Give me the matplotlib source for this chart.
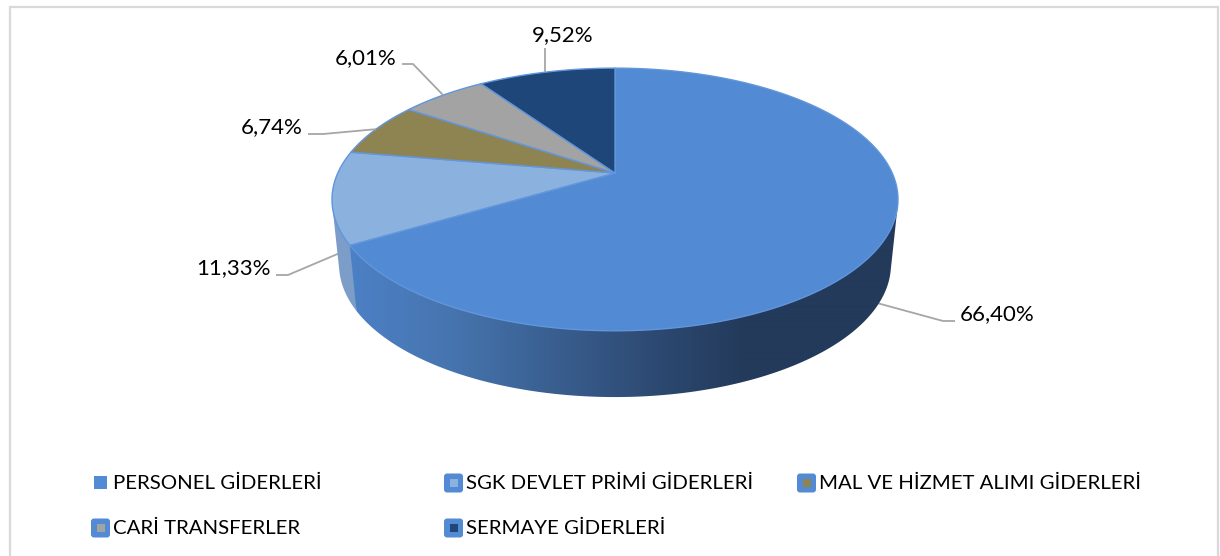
import numpy as np
import matplotlib
matplotlib.use("Agg")
import matplotlib.pyplot as plt
from matplotlib.colors import LinearSegmentedColormap
from matplotlib.patches import FancyBboxPatch, Polygon, Rectangle

plt.rcParams['font.family'] = ['Lato', 'DejaVu Sans']

categories = ['PERSONEL GİDERLERİ', 'SGK DEVLET PRİMİ GİDERLERİ', 'MAL VE HİZMET ALIMI GİDERLERİ',
              'CARİ TRANSFERLER', 'SERMAYE GİDERLERİ']
values = [66.40, 11.33, 6.74, 6.01, 9.52]
labels = ['66,40%', '11,33%', '6,74%', '6,01%', '9,52%']
colors = ['#538AD4', '#8BB1DF', '#8E8452', '#A3A3A3', '#1E4679']
wall_colors = ['#4C80C4', '#7C9DC8', '#6E6740', '#808080', '#183A66']

# Layout, in pixels of the 1220x556 picture
CX, HUB_Y, R, K, A = 615.0, 173.0, 277.2, 0.2015, -126.0
WALL_S, WALL_A, WALL_Y = 0.975, 1.008, 238.0
label_xy = [(960, 314, 'left'), (271, 268, 'right'), (303, 127, 'right'), (396, 58, 'right'), (563, 35, 'center')]
elbows = [[(955, 321), (943, 321)], [(276, 275), (288, 275)], [(308, 134), (323, 134)],
          [(402, 64), (413, 64)], [(545, 48)]]
leader_rim = [0.93, 0.87, 0.0, 0.0, 0.0]
legend_cells = [(94, 483), (444, 483), (797, 483), (91, 528), (444, 528)]


def rim(theta, frac=0.0):
    """Clockwise angle from 12 o'clock to pixel position, frac 0 = top rim, 1 = bottom rim."""
    x, y = np.sin(theta), np.cos(theta)
    w = 1 + K * y
    sx = 1 + (WALL_S - 1) * frac
    sy = 1 + (WALL_A - 1) * frac
    hub = HUB_Y + (WALL_Y - HUB_Y) * frac
    return CX + sx * R * x / w, hub + sy * A * y / w


def hull(points):
    """Convex outline of a set of points (monotone chain)."""
    pts = sorted(set(map(tuple, points)))

    def half(seq):
        out = []
        for p in seq:
            while len(out) > 1 and ((out[-1][0] - out[-2][0]) * (p[1] - out[-2][1])
                                    - (out[-1][1] - out[-2][1]) * (p[0] - out[-2][0])) <= 0:
                out.pop()
            out.append(p)
        return out[:-1]

    return np.array(half(pts) + half(pts[::-1]))


fig = plt.figure(figsize=(12.2, 5.56), dpi=100)
ax = fig.add_axes([0, 0, 1, 1])
ax.set_xlim(0, 1220)
ax.set_ylim(556, 0)
ax.axis('off')

ax.add_patch(Rectangle((10, 6.5), 1207.5, 560, fc='white', ec='#D9D9D9', lw=1.6))

edges = np.concatenate([[0], np.cumsum(values)]) / sum(values) * 2 * np.pi
shade = LinearSegmentedColormap.from_list('shade', [
    (0.0, '#4C80C4'), (0.25, '#4674AE'), (0.5, '#3A6091'), (0.75, '#2E4B74'), (1.0, '#233A5B')])

# Side wall; the large slice carries a left-to-right gradient
for i in range(2):
    th = np.linspace(max(edges[i], np.pi / 3), edges[i + 1], 400)
    xt, yt = rim(th, 0)
    xb, yb = rim(th, 1)
    wall = hull(np.column_stack([np.r_[xt, xb], np.r_[yt, yb]]))
    if i == 0:
        patch = Polygon(wall, closed=True, fc='none', ec='none', zorder=2)
        ax.add_patch(patch)
        xs = np.linspace(330, 910, 580)
        grad = np.clip((xs - 355) / (745 - 355), 0, 1).reshape(1, -1)
        im = ax.imshow(grad, cmap=shade, vmin=0, vmax=1, extent=(330, 910, 420, 190), aspect='auto',
                       zorder=2, interpolation='bilinear')
        im.set_clip_path(patch)
        ax.set_xlim(0, 1220)
        ax.set_ylim(556, 0)
    else:
        ax.add_patch(Polygon(wall, closed=True, fc=wall_colors[i], ec='none', zorder=1.9))

# Top face
for i in range(len(values)):
    th = np.linspace(edges[i], edges[i + 1], 200)
    xt, yt = rim(th, 0)
    ax.fill(np.r_[CX, xt], np.r_[HUB_Y, yt], fc=colors[i], ec='#6296DC', lw=1.0, zorder=3, joinstyle='round')

# Leader lines and labels
for i in range(len(values)):
    mid = (edges[i] + edges[i + 1]) / 2
    ax_x, ax_y = rim(mid, leader_rim[i])
    if i == 4:
        ax_x = elbows[i][0][0]
    pts = elbows[i] + [(ax_x, ax_y)]
    ax.plot(*zip(*pts), color='#A6A6A6', lw=1.3, zorder=1.5 if leader_rim[i] else 4, solid_capstyle='butt')
    lx, ly, ha = label_xy[i]
    ax.text(lx, ly, labels[i], ha=ha, va='center', fontsize=16.0, color='#000000', zorder=5)

# Legend
for i, ((mx, my), name) in enumerate(zip(legend_cells, categories)):
    if i == 0:
        ax.add_patch(Rectangle((mx, my - 7), 13, 13, fc=colors[0], ec='none', zorder=5))
        tx = mx + 19
    else:
        ax.add_patch(FancyBboxPatch((mx + 1.5, my - 8), 16, 16, boxstyle='round,pad=1.5,rounding_size=3',
                                    fc=colors[0], ec='none', zorder=5))
        ax.add_patch(Rectangle((mx + 5.5, my - 4), 8, 8, fc=colors[i], ec='none', zorder=6))
        tx = mx + 22
    ax.text(tx, my, name, ha='left', va='center', fontsize=14.7, color='#000000', zorder=6)

fig.savefig('out.png', dpi=100, facecolor='white')
